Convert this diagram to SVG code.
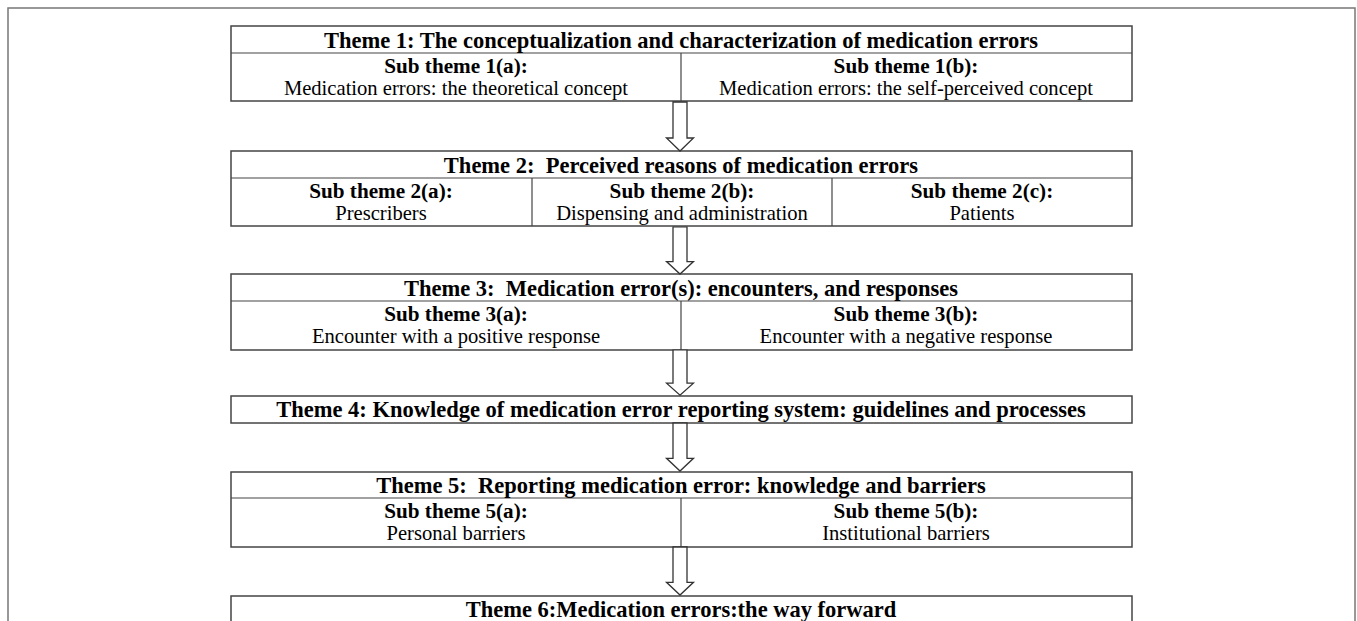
<svg xmlns="http://www.w3.org/2000/svg" width="1357" height="621" viewBox="0 0 1357 621">
<style>
.frame{fill:none;stroke:#777;stroke-width:1.5}
.box{fill:#fff;stroke:#444;stroke-width:1.5}
.ln{stroke:#444;stroke-width:1.2}
.arr{fill:#fff;stroke:#333;stroke-width:1.3;stroke-linejoin:miter}
.h{font-family:"Liberation Serif","Times New Roman",serif;font-weight:bold;font-size:22.5px;fill:#000;text-anchor:middle;white-space:pre}
.s{font-family:"Liberation Serif","Times New Roman",serif;font-weight:bold;font-size:21.2px;fill:#000;text-anchor:middle}
.d{font-family:"Liberation Serif","Times New Roman",serif;font-size:20.6px;fill:#000;text-anchor:middle}
</style>
<defs>
<path id="arrow" d="M-7,0 H7 V36 H13.5 L0,49 L-13.5,36 H-7 Z"/>
</defs>
<rect width="1357" height="621" fill="#fff"/>
<rect class="frame" x="8" y="8" width="1347" height="640"/>

<g id="theme1">
<rect class="box" x="231" y="26" width="901" height="75"/>
<line class="ln" x1="231" y1="53" x2="1132" y2="53"/>
<line class="ln" x1="681" y1="53" x2="681" y2="101"/>
<text class="h" x="681" y="48">Theme 1: The conceptualization and characterization of medication errors</text>
<text class="s" x="456" y="73">Sub theme 1(a):</text>
<text class="d" x="456" y="95">Medication errors: the theoretical concept</text>
<text class="s" x="906" y="73">Sub theme 1(b):</text>
<text class="d" x="906" y="95">Medication errors: the self-perceived concept</text>
</g>

<g id="theme2">
<rect class="box" x="231" y="151" width="901" height="75"/>
<line class="ln" x1="231" y1="178" x2="1132" y2="178"/>
<line class="ln" x1="532" y1="178" x2="532" y2="226"/>
<line class="ln" x1="832" y1="178" x2="832" y2="226"/>
<text class="h" x="681" y="173" xml:space="preserve">Theme 2:  Perceived reasons of medication errors</text>
<text class="s" x="381" y="198">Sub theme 2(a):</text>
<text class="d" x="381" y="220">Prescribers</text>
<text class="s" x="682" y="198">Sub theme 2(b):</text>
<text class="d" x="682" y="220">Dispensing and administration</text>
<text class="s" x="982" y="198">Sub theme 2(c):</text>
<text class="d" x="982" y="220">Patients</text>
</g>

<g id="theme3">
<rect class="box" x="231" y="274" width="901" height="76"/>
<line class="ln" x1="231" y1="301" x2="1132" y2="301"/>
<line class="ln" x1="681" y1="301" x2="681" y2="350"/>
<text class="h" x="681" y="296" xml:space="preserve">Theme 3:  Medication error(s): encounters, and responses</text>
<text class="s" x="456" y="321">Sub theme 3(a):</text>
<text class="d" x="456" y="343">Encounter with a positive response</text>
<text class="s" x="906" y="321">Sub theme 3(b):</text>
<text class="d" x="906" y="343">Encounter with a negative response</text>
</g>

<g id="theme4">
<rect class="box" x="231" y="396" width="901" height="27"/>
<text class="h" x="681" y="417">Theme 4: Knowledge of medication error reporting system: guidelines and processes</text>
</g>

<g id="theme5">
<rect class="box" x="231" y="472" width="901" height="75"/>
<line class="ln" x1="231" y1="498" x2="1132" y2="498"/>
<line class="ln" x1="681" y1="498" x2="681" y2="547"/>
<text class="h" x="681" y="493" xml:space="preserve">Theme 5:  Reporting medication error: knowledge and barriers</text>
<text class="s" x="456" y="518">Sub theme 5(a):</text>
<text class="d" x="456" y="540">Personal barriers</text>
<text class="s" x="906" y="518">Sub theme 5(b):</text>
<text class="d" x="906" y="540">Institutional barriers</text>
</g>

<g id="theme6">
<rect class="box" x="231" y="596" width="901" height="60"/>
<text class="h" x="681" y="617">Theme 6:Medication errors:the way forward</text>
</g>

<g id="connectors">
<use href="#arrow" class="arr" transform="translate(680,102)"/>
<use href="#arrow" class="arr" transform="translate(680,227) scale(1,0.96)"/>
<use href="#arrow" class="arr" transform="translate(680,350) scale(1,0.92)"/>
<use href="#arrow" class="arr" transform="translate(680,423) scale(1,0.98)"/>
<use href="#arrow" class="arr" transform="translate(680,547) scale(1,0.98)"/>
</g>
</svg>
